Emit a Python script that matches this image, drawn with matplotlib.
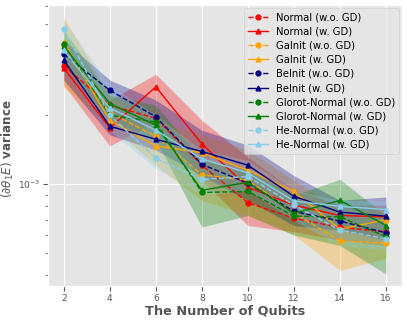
import numpy as np
import matplotlib
matplotlib.use("Agg")
import matplotlib.pyplot as plt
from matplotlib.ticker import NullFormatter

plt.style.use("ggplot")

qubits = [2, 4, 6, 8, 10, 12, 14, 16]

normal_wo = [3.29e-3, 2.21e-3, 1.94e-3, 1.21e-3, 8.3e-4, 7.1e-4, 6.47e-4, 6.2e-4]
normal_w = [3.22e-3, 1.76e-3, 2.66e-3, 1.50e-3, 9.7e-4, 8.1e-4, 7.3e-4, 7.2e-4]
gainit_wo = [4.05e-3, 2.05e-3, 1.62e-3, 1.10e-3, 1.04e-3, 7.5e-4, 5.65e-4, 5.53e-4]
gainit_w = [4.17e-3, 1.90e-3, 1.47e-3, 1.37e-3, 1.15e-3, 9.3e-4, 6.36e-4, 7.0e-4]
beinit_wo = [3.70e-3, 2.57e-3, 1.97e-3, 1.22e-3, 1.01e-3, 7.6e-4, 6.9e-4, 6.13e-4]
beinit_w = [3.48e-3, 1.79e-3, 1.57e-3, 1.39e-3, 1.21e-3, 8.85e-4, 7.55e-4, 7.25e-4]
glorot_wo = [4.08e-3, 2.00e-3, 1.87e-3, 9.2e-4, 9.3e-4, 7.25e-4, 7.2e-4, 5.9e-4]
glorot_w = [4.00e-3, 2.25e-3, 1.81e-3, 9.4e-4, 1.02e-3, 7.45e-4, 8.5e-4, 6.6e-4]
he_wo = [4.75e-3, 2.00e-3, 1.30e-3, 1.05e-3, 1.08e-3, 8.1e-4, 6.3e-4, 5.77e-4]
he_w = [3.85e-3, 2.15e-3, 1.72e-3, 1.29e-3, 1.12e-3, 8.45e-4, 8.0e-4, 7.75e-4]

# spread bands
normal_lo = [2.71e-3, 1.47e-3, 1.87e-3, 1.04e-3, 6.6e-4, 6.2e-4, 5.7e-4, 5.4e-4]
normal_hi = [3.66e-3, 2.33e-3, 3.02e-3, 1.90e-3, 1.31e-3, 9.4e-4, 8.1e-4, 8.1e-4]
gainit_lo = [2.65e-3, 1.81e-3, 1.21e-3, 8.5e-4, 7.3e-4, 6.0e-4, 4.2e-4, 4.75e-4]
gainit_hi = [5.35e-3, 2.45e-3, 1.90e-3, 1.64e-3, 1.41e-3, 1.04e-3, 7.7e-4, 7.7e-4]
beinit_lo = [2.85e-3, 1.64e-3, 1.41e-3, 1.09e-3, 8.5e-4, 6.6e-4, 6.3e-4, 5.7e-4]
beinit_hi = [4.25e-3, 2.85e-3, 2.33e-3, 1.72e-3, 1.48e-3, 1.09e-3, 8.5e-4, 8.8e-4]
glorot_lo = [3.31e-3, 1.90e-3, 1.56e-3, 6.5e-4, 7.3e-4, 6.0e-4, 5.4e-4, 4.05e-4]
glorot_hi = [4.70e-3, 2.45e-3, 2.21e-3, 1.27e-3, 1.15e-3, 8.95e-4, 1.05e-3, 7.3e-4]
he_lo = [3.48e-3, 1.72e-3, 1.17e-3, 8.95e-4, 9.4e-4, 6.95e-4, 5.4e-4, 5.15e-4]
he_hi = [5.20e-3, 2.71e-3, 2.00e-3, 1.41e-3, 1.27e-3, 9.4e-4, 8.5e-4, 8.5e-4]

metody = [
    ("Normal", "red", normal_wo, normal_w, normal_lo, normal_hi),
    ("GaInit", "orange", gainit_wo, gainit_w, gainit_lo, gainit_hi),
    ("BeInit", "navy", beinit_wo, beinit_w, beinit_lo, beinit_hi),
    ("Glorot-Normal", "green", glorot_wo, glorot_w, glorot_lo, glorot_hi),
    ("He-Normal", "skyblue", he_wo, he_w, he_lo, he_hi),
]

fig = plt.figure(figsize=(4.07, 3.2), dpi=100)
ax = fig.add_axes([0.117, 0.106, 0.871, 0.878])

for nazwa, kolor, wo, w, lo, hi in metody:
    ax.fill_between(qubits, lo, hi, color=kolor, alpha=0.3, linewidth=0)
    ax.plot(qubits, wo, "--o", color=kolor, markersize=3.5, linewidth=1,
            label=nazwa + " (w.o. GD)")
    ax.plot(qubits, w, "-^", color=kolor, markersize=3.5, linewidth=1,
            label=nazwa + " (w. GD)")

ax.set_yscale("log")
ax.set_ylim(3.59e-4, 6.05e-3)
ax.set_xticks(qubits)
ax.yaxis.set_minor_formatter(NullFormatter())
ax.tick_params(labelsize=6.5, pad=2)
ax.set_xlabel("The Number of Qubits", fontsize=9.3, fontweight="bold", labelpad=1)
ax.set_ylabel(r"$(\partial\theta_1 E)$ variance", fontsize=8.6, fontweight="bold")
ax.yaxis.set_label_coords(-0.088, 0.49)
ax.legend(fontsize=7.2, loc="upper right", labelspacing=0.42, borderaxespad=0.3)

fig.savefig("out.png", dpi=100)
